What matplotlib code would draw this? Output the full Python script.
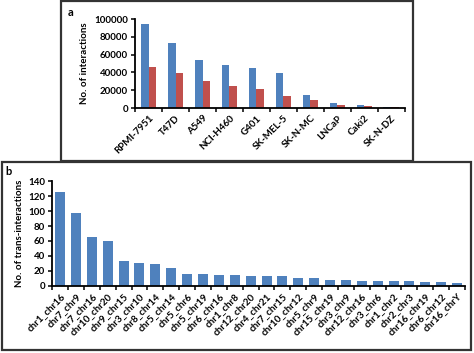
import numpy as np
import matplotlib.pyplot as plt
from matplotlib.patches import Rectangle

# Panel a: interactions per cell line
cell_lines = ['RPMI-7951', 'T47D', 'A549', 'NCI-H460', 'G401', 'SK-MEL-5',
              'SK-N-MC', 'LNCaP', 'Caki2', 'SK-N-DZ']
blue_vals = [95000, 73000, 54500, 48000, 45000, 39500, 14500, 5500, 3500, 1500]
red_vals = [46000, 39500, 30000, 24500, 21000, 13500, 8500, 3000, 2000, 1000]
yticks_a = [0, 20000, 40000, 60000, 80000, 100000]

# Panel b: trans-interactions per chromosome pair
pairs = ['chr1_chr16', 'chr7_chr9', 'chr7_chr16', 'chr10_chr20', 'chr9_chr15',
         'chr3_chr10', 'chr8_chr14', 'chr5_chr14', 'chr5_chr6', 'chr5_chr19',
         'chr6_chr16', 'chr1_chr8', 'chr12_chr20', 'chr4_chr21', 'chr7_chr15',
         'chr10_chr12', 'chr5_chr9', 'chr15_chr19', 'chr3_chr9', 'chr12_chr16',
         'chr3_chr6', 'chr1_chr2', 'chr2_chr3', 'chr16_chr19', 'chr6_chr12',
         'chr16_chrY']
trans_vals = [126, 98, 65, 60, 33, 31, 29, 24, 16, 16, 15, 15, 13, 13, 13,
              11, 11, 8, 8, 7, 7, 6, 6, 5, 5, 4]
yticks_b = [0, 20, 40, 60, 80, 100, 120, 140]

BLUE = '#4F81BD'
RED = '#C0504D'
FONT = ['Lato', 'DejaVu Sans']

plt.rcParams['font.family'] = FONT
plt.rcParams['font.weight'] = 'bold'

fig = plt.figure(figsize=(4.74, 3.53), dpi=100)

# outer boxes around each panel
fig.patches.append(Rectangle((0.129, 0.544), 0.742, 0.452, transform=fig.transFigure,
                             fill=False, edgecolor='#333333', linewidth=1.6))
fig.patches.append(Rectangle((0.004, 0.009), 0.990, 0.533, transform=fig.transFigure,
                             fill=False, edgecolor='#333333', linewidth=1.6))


def style_axis(ax, n):
    for s in ['top', 'right']:
        ax.spines[s].set_visible(False)
    for s in ['left', 'bottom']:
        ax.spines[s].set_linewidth(1.3)
        ax.spines[s].set_color('black')
    ax.set_xlim(-0.5, n - 0.5)
    ax.set_xticks(np.arange(n + 1) - 0.5)
    ax.set_xticklabels([])
    ax.set_xticks(np.arange(n), minor=True)
    ax.tick_params(axis='x', which='major', direction='out', length=3, width=1.1)
    ax.tick_params(axis='x', which='minor', length=0)
    ax.tick_params(axis='y', direction='out', length=3, width=1.1, labelsize=7, pad=2)


# Panel a
ax1 = fig.add_axes([0.285, 0.694, 0.569, 0.252])
x = np.arange(len(cell_lines))
w = 0.29
ax1.bar(x - w / 2, blue_vals, w, color=BLUE)
ax1.bar(x + w / 2, red_vals, w, color=RED)
style_axis(ax1, len(cell_lines))
ax1.set_ylim(0, 100000)
ax1.set_yticks(yticks_a)
ax1.set_xticklabels(cell_lines, minor=True, rotation=45, ha='right',
                    rotation_mode='anchor', fontsize=7, fontweight='bold')
ax1.tick_params(axis='x', which='minor', pad=4)
ax1.set_ylabel('No. of interactions', fontsize=7, fontweight='bold', labelpad=4)
fig.text(0.142, 0.965, 'a', fontsize=8, fontweight='bold', va='center')

# Panel b
ax2 = fig.add_axes([0.110, 0.190, 0.871, 0.297])
xb = np.arange(len(pairs))
ax2.bar(xb, trans_vals, 0.63, color=BLUE)
style_axis(ax2, len(pairs))
ax2.set_ylim(0, 140)
ax2.set_yticks(yticks_b)
ax2.set_xticklabels(pairs, minor=True, rotation=45, ha='right',
                    rotation_mode='anchor', fontsize=7, fontweight='bold')
ax2.tick_params(axis='x', which='minor', pad=4)
ax2.set_ylabel('No. of trans-interactions', fontsize=7, fontweight='bold', labelpad=3)
fig.text(0.012, 0.513, 'b', fontsize=8, fontweight='bold', va='center')

fig.savefig('out.png', dpi=100)
